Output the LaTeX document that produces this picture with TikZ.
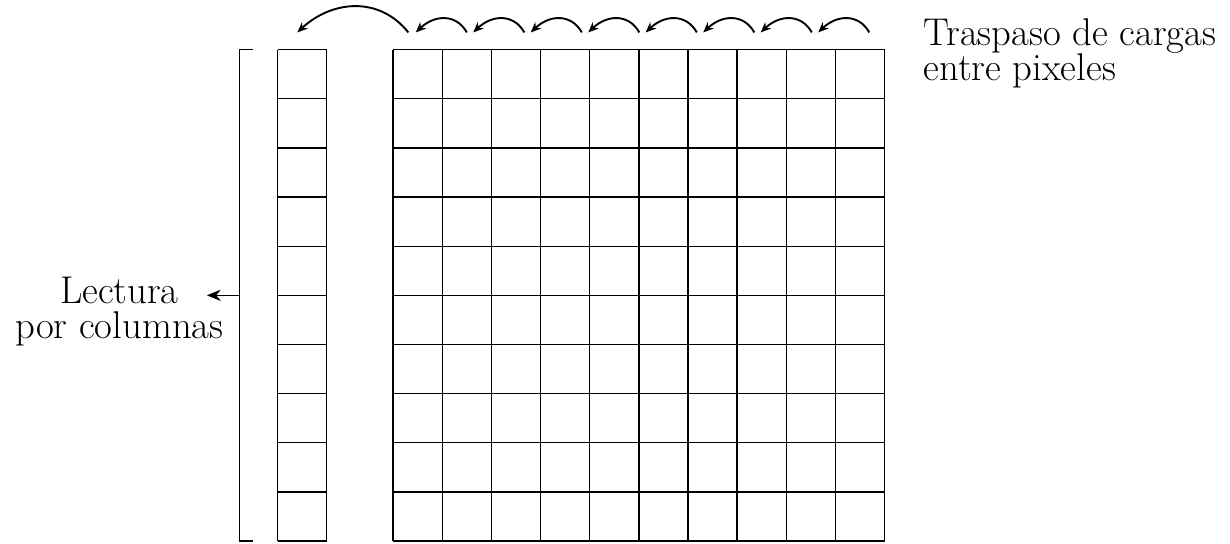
\documentclass[tikz,border=0pt]{standalone}
\usepackage{tikz}
\usetikzlibrary{arrows.meta,positioning,calc}
\tikzset{>=Stealth}
\tikzset{hop/.style={-{Stealth[length=6pt,width=5pt]}, line width=1.1pt}}
\tikzset{lbl/.style={font=\fontsize{22.4}{20.3}\selectfont, inner sep=0pt}}

\begin{document}
\begin{tikzpicture}[line width=0.8pt]
  \useasboundingbox (-8,-0.04) rectangle (17.03,11.01);
  % matriz de pixeles
  \draw (0,0) grid (10,10);
  % columna de lectura
  \draw[xshift=-2.35cm] (0,0) grid (1,10);
  % corchete
  \coordinate (ctop) at (-3.13,10);
  \coordinate (cbot) at (-3.13,0);
  \draw (-2.85,10) -- (ctop) -- (cbot) -- (-2.85,0);
  \coordinate (cmid) at (-3.13,5);
  \coordinate (tip) at (-3.79,5);
  \draw[-{Stealth[length=8pt,width=6.5pt]}] (cmid) -- (tip);
  \node[lbl, align=center, anchor=north] (lectura) at (-5.57,5.38) {Lectura\\por columnas};
  \node[lbl, align=left, anchor=north west] (traspaso) at (10.78,10.64) {Traspaso de cargas\\entre pixeles};
  % saltos de carga
  \foreach \k in {0,...,7} {
    \coordinate (s\k) at ({1.5+1.17*\k},10.35);
    \coordinate (t\k) at ({0.46+1.17*\k},10.35);
    \draw[hop] (s\k) .. controls +(-0.22,0.39) and +(0.38,0.36) .. (t\k);
  }
  \coordinate (s8) at (0.31,10.35);
  \coordinate (t8) at (-1.95,10.35);
  \draw[hop] (s8) .. controls +(-0.6,0.75) and +(0.7,0.65) .. (t8);
\end{tikzpicture}
\end{document}
